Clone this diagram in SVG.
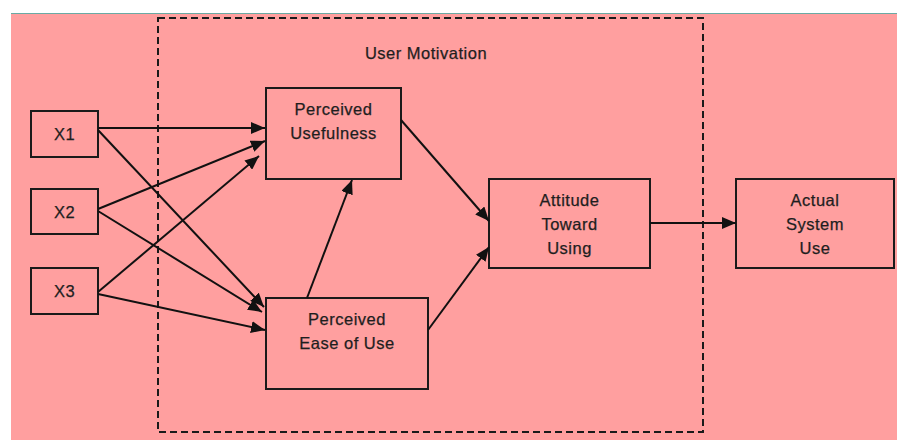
<svg xmlns="http://www.w3.org/2000/svg" width="897" height="440" viewBox="0 0 897 440">
<defs>
<marker id="ah" markerUnits="userSpaceOnUse" markerWidth="14" markerHeight="12" refX="14" refY="6" orient="auto">
<path d="M0,0 L14,6 L0,12 z" fill="#111"/>
</marker>
<style>
.box{fill:none;stroke:#1a1a1a;stroke-width:2}
.t{font-family:"Liberation Sans",Arial,sans-serif;font-size:16.5px;fill:#1e1e1e;stroke:#1e1e1e;stroke-width:0.25;letter-spacing:0.5px;text-anchor:middle}
.c line{stroke:#111;stroke-width:2;marker-end:url(#ah)}
</style>
</defs>
<rect x="0" y="0" width="897" height="440" fill="#ffffff"/>
<rect x="11" y="13" width="886" height="427" fill="#ff9f9f"/>
<line x1="11" y1="13.5" x2="897" y2="13.5" stroke="#6aaaa4" stroke-width="1"/>
<g id="user-motivation">
<rect x="158" y="18" width="545" height="414" fill="none" stroke="#1a1a1a" stroke-width="2" stroke-dasharray="7,4"/>
<text class="t" x="426" y="59">User Motivation</text>
</g>
<g id="x1"><rect class="box" x="31" y="111" width="67" height="46"/><text class="t" x="64.5" y="140">X1</text></g>
<g id="x2"><rect class="box" x="31" y="189" width="67" height="45"/><text class="t" x="64.5" y="218">X2</text></g>
<g id="x3"><rect class="box" x="31" y="268" width="67" height="46"/><text class="t" x="64.5" y="297">X3</text></g>
<g id="pu"><rect class="box" x="266" y="88" width="135" height="91"/><text class="t" x="333.5" y="115">Perceived</text><text class="t" x="333.5" y="139">Usefulness</text></g>
<g id="peou"><rect class="box" x="266" y="298" width="162" height="91"/><text class="t" x="347" y="325">Perceived</text><text class="t" x="347" y="349">Ease of Use</text></g>
<g id="atu"><rect class="box" x="489" y="179" width="161" height="89"/><text class="t" x="569.5" y="206">Attitude</text><text class="t" x="569.5" y="230">Toward</text><text class="t" x="569.5" y="254">Using</text></g>
<g id="asu"><rect class="box" x="736" y="179" width="158" height="89"/><text class="t" x="815" y="206">Actual</text><text class="t" x="815" y="230">System</text><text class="t" x="815" y="254">Use</text></g>
<g id="connectors" class="c">
<line x1="98" y1="128" x2="265" y2="128"/>
<line x1="98" y1="130" x2="264" y2="307"/>
<line x1="98" y1="209" x2="265" y2="141"/>
<line x1="98" y1="211" x2="262" y2="312"/>
<line x1="98" y1="292" x2="259" y2="156"/>
<line x1="98" y1="294" x2="265" y2="330"/>
<line x1="307" y1="298" x2="352" y2="180"/>
<line x1="401" y1="120" x2="489" y2="221"/>
<line x1="428" y1="330" x2="489" y2="247"/>
<line x1="650" y1="223" x2="736" y2="223"/>
</g>
</svg>
